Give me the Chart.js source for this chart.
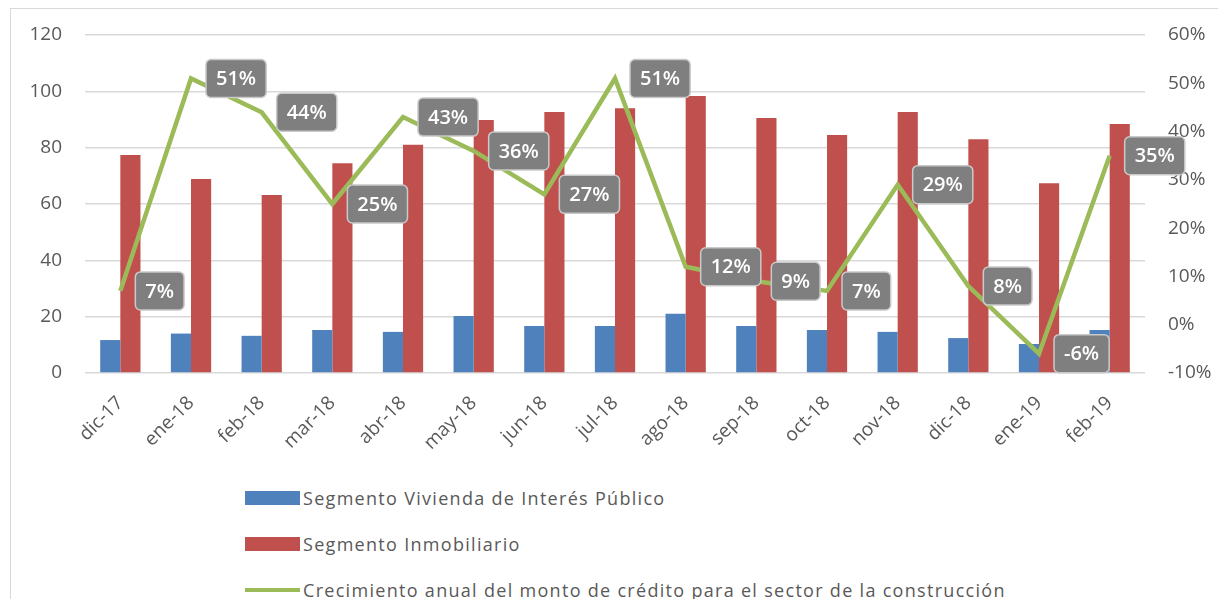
<!DOCTYPE html>
<html>
<head>
<meta charset="utf-8">
<script src="https://cdn.jsdelivr.net/npm/chart.js@4.4.1/dist/chart.umd.min.js"></script>
<style>
  body { margin: 0; background: #fff; overflow: hidden; }
  #wrap { position: relative; width: 1218px; height: 599px; overflow: hidden; }
  #frame { position: absolute; left: 10px; top: 8px; width: 1240px; height: 640px; border: 1px solid #d9d9d9; }
  #box { position: absolute; left: 0; top: 0; width: 1218px; height: 450px; }
  .leg { position: absolute; left: 245px; height: 30px; display: flex; align-items: center;
         font-family: "Open Sans", sans-serif; font-size: 18px; letter-spacing: 1.3px;
         color: #595959; white-space: nowrap; }
  .leg i { display: inline-block; width: 55px; margin-right: 3px; }
</style>
</head>
<body>
<div id="wrap">
  <div id="frame"></div>
  <div id="box"><canvas id="creditChart"></canvas></div>
  <div id="legend"></div>
</div>
<script>
var labels = ["dic-17", "ene-18", "feb-18", "mar-18", "abr-18", "may-18", "jun-18", "jul-18",
              "ago-18", "sep-18", "oct-18", "nov-18", "dic-18", "ene-19", "feb-19"];
var vivienda = [11.7, 14, 13.2, 15.3, 14.6, 20.2, 16.7, 16.7, 21, 16.7, 15.3, 14.6, 12.4, 10.3, 15.3];
var inmobiliario = [77.4, 68.9, 63.2, 74.5, 81, 89.8, 92.7, 94, 98.3, 90.5, 84.5, 92.7, 83, 67.4, 88.4];
var crecimiento = [7, 51, 44, 25, 43, 36, 27, 51, 12, 9, 7, 29, 8, -6, 35];
var names = ["Segmento Vivienda de Interés Público", "Segmento Inmobiliario",
             "Crecimiento anual del monto de crédito para el sector de la construcción"];
var colors = ["#4f81bd", "#c0504d", "#9bbb59"];

var gray = "#595959";
var tickFont = { family: "Open Sans", size: 19 };

// gray boxes with the % value, to the right of each point of the line
var labelBoxes = {
  id: 'labelBoxes',
  afterDatasetsDraw: function(chart) {
    var meta = chart.getDatasetMeta(2);
    var c = chart.ctx;
    c.save();
    c.font = "600 20px 'Open Sans'";
    meta.data.forEach(function(pt, i) {
      var txt = crecimiento[i] + "%";
      var w = c.measureText(txt).width + 20, h = 38;
      var x = pt.x + 15, y = pt.y - h / 2;
      c.beginPath();
      c.roundRect(x, y, w, h, 5);
      c.fillStyle = "#7f7f7f";
      c.fill();
      c.strokeStyle = "#c9c9c9";
      c.lineWidth = 1.5;
      c.stroke();
      c.fillStyle = "#fff";
      c.textAlign = "center";
      c.textBaseline = "middle";
      c.fillText(txt, x + w / 2, pt.y + 1);
    });
    c.restore();
  }
};

var ctx = document.getElementById('creditChart').getContext("2d");

var myChart = new Chart(ctx, {
  type: 'bar',
  data: {
    labels: labels,
    datasets: [{
        label: names[0],
        backgroundColor: colors[0],
        data: vivienda,
        yAxisID: 'y',
        order: 1,
        categoryPercentage: 0.57,
        barPercentage: 1.0
      }, {
        label: names[1],
        backgroundColor: colors[1],
        data: inmobiliario,
        yAxisID: 'y',
        order: 1,
        categoryPercentage: 0.57,
        barPercentage: 1.0
      }, {
        type: 'line',
        label: names[2],
        borderColor: colors[2],
        backgroundColor: colors[2],
        borderWidth: 4.5,
        pointRadius: 0,
        tension: 0,
        fill: false,
        data: crecimiento,
        yAxisID: 'y1',
        order: 0
      }
    ]
  },
  options: {
    responsive: true,
    maintainAspectRatio: false,
    animation: false,
    layout: { padding: { top: 35, left: 0, right: 0, bottom: 0 } },
    plugins: {
      legend: { display: false },
      tooltip: { enabled: false }
    },
    scales: {
      x: {
        grid: { display: false, drawTicks: false },
        border: { display: false },
        ticks: { color: gray, font: tickFont, minRotation: 45, maxRotation: 45, padding: 19 },
        afterFit: function(s) { s.height = 77; }
      },
      y: {
        position: 'left',
        min: 0,
        max: 120,
        ticks: { stepSize: 20, color: gray, font: tickFont, padding: 23 },
        grid: { color: "#d9d9d9", lineWidth: 1.5, drawTicks: false },
        border: { display: false },
        afterFit: function(s) { s.width = 85; }
      },
      y1: {
        position: 'right',
        min: -10,
        max: 60,
        ticks: { stepSize: 10, color: gray, font: tickFont, padding: 23,
                 callback: function(v) { return v + "%"; } },
        grid: { display: false, drawTicks: false },
        border: { display: false },
        afterFit: function(s) { s.width = 73; }
      }
    }
  },
  plugins: [labelBoxes]
});

// legend below the chart, one item per row
var legend = document.getElementById('legend');
var rowY = [483, 529, 575];
names.forEach(function(n, i) {
  var d = document.createElement('div');
  d.className = 'leg';
  d.style.top = rowY[i] + 'px';
  var sw = document.createElement('i');
  sw.style.background = colors[i];
  sw.style.height = i == 2 ? '4px' : '14px';
  d.appendChild(sw);
  d.appendChild(document.createTextNode(n));
  legend.appendChild(d);
});
</script>
</body>
</html>
